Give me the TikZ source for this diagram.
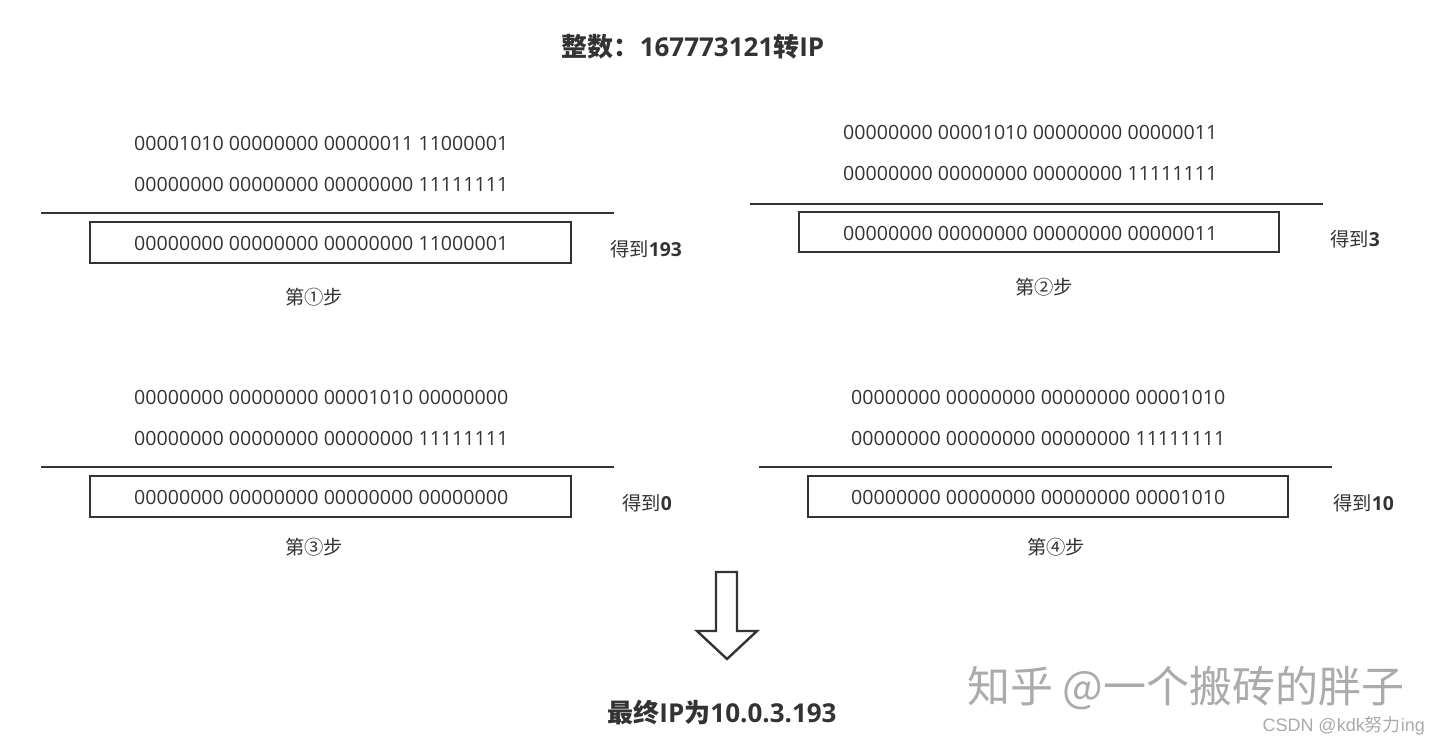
\documentclass[tikz,border=0pt]{standalone}
\usepackage{fontspec}
\setmainfont{Open Sans}
\newfontfamily\cjk{Noto Sans CJK SC}
\newfontfamily\wmsans{Liberation Sans}
\usetikzlibrary{positioning}
\definecolor{ink}{HTML}{333333}
\definecolor{wm}{HTML}{ABABAB}
\tikzset{
  bits/.style={inner sep=0pt, anchor=west, text=ink, font=\fontsize{19.6}{19.6}\selectfont},
  rule/.style={draw=ink, line width=2.2pt},
  resbox/.style={draw=ink, line width=2pt},
  result/.style={inner sep=0pt, anchor=west, text=ink, font=\fontsize{19.3}{19.3}\selectfont},
  steplabel/.style={inner sep=0pt, text=ink, font=\cjk\fontsize{19.3}{19.3}\selectfont},
  heading/.style={inner sep=0pt, text=ink, font=\bfseries\fontsize{26}{26}\selectfont},
}
\begin{document}
\begin{tikzpicture}[x=1pt,y=-1pt]
\useasboundingbox (0,0) rectangle (1440,747);
\fill[white] (0,0) rectangle (1440,747);

\node[heading] (title) at (693,47) {{\cjk\bfseries 整数：}167773121{\cjk\bfseries 转}IP};

% Step 1
\node[bits] (s1a) at (134,143) {00001010 00000000 00000011 11000001};
\node[bits] (s1b) at (134,184) {00000000 00000000 00000000 11111111};
\coordinate (s1l) at (41,213); \coordinate (s1r) at (614,213);
\draw[rule] (s1l) -- (s1r);
\draw[resbox] (90,222) rectangle (571,263);
\node[bits] (s1c) at (134,243) {00000000 00000000 00000000 11000001};
\node[result] (s1res) at (610,249) {{\cjk 得到}\textbf{193}};
\node[steplabel] (s1step) at (314,297) {第①步};

% Step 2
\node[bits] (s2a) at (843,132) {00000000 00001010 00000000 00000011};
\node[bits] (s2b) at (843,173) {00000000 00000000 00000000 11111111};
\coordinate (s2l) at (750,204); \coordinate (s2r) at (1323,204);
\draw[rule] (s2l) -- (s2r);
\draw[resbox] (799,212) rectangle (1279,252);
\node[bits] (s2c) at (843,233) {00000000 00000000 00000000 00000011};
\node[result] (s2res) at (1330,239) {{\cjk 得到}\textbf{3}};
\node[steplabel] (s2step) at (1044,287) {第②步};

% Step 3
\node[bits] (s3a) at (134,397) {00000000 00000000 00001010 00000000};
\node[bits] (s3b) at (134,438) {00000000 00000000 00000000 11111111};
\coordinate (s3l) at (41,467); \coordinate (s3r) at (614,467);
\draw[rule] (s3l) -- (s3r);
\draw[resbox] (90,476) rectangle (571,517);
\node[bits] (s3c) at (134,497) {00000000 00000000 00000000 00000000};
\node[result] (s3res) at (622,503) {{\cjk 得到}\textbf{0}};
\node[steplabel] (s3step) at (314,547) {第③步};

% Step 4
\node[bits] (s4a) at (851,397) {00000000 00000000 00000000 00001010};
\node[bits] (s4b) at (851,438) {00000000 00000000 00000000 11111111};
\coordinate (s4l) at (759,467); \coordinate (s4r) at (1332,467);
\draw[rule] (s4l) -- (s4r);
\draw[resbox] (808,476) rectangle (1288,517);
\node[bits] (s4c) at (851,497) {00000000 00000000 00000000 00001010};
\node[result] (s4res) at (1333,503) {{\cjk 得到}\textbf{10}};
\node[steplabel] (s4step) at (1056,547) {第④步};

% Arrow
\draw[ink, line width=2.4pt, line join=miter, fill=white]
  (716,572) -- (737,572) -- (737,631) -- (757,631) -- (727,659)
  -- (697,631) -- (716,631) -- cycle;

\node[heading] (final) at (722,713) {{\cjk\bfseries 最终}IP{\cjk\bfseries 为}10.0.3.193};

% Watermarks
\node[inner sep=0pt, anchor=west, text=wm, font=\cjk\fontsize{43}{43}\selectfont] (wm1) at (967,688) {知乎 @一个搬砖的胖子};
\node[inner sep=0pt, anchor=east, text=wm, font=\wmsans\fontsize{18}{18}\selectfont] (wm2) at (1425,726) {CSDN @kdk{\cjk 努力}ing};
\end{tikzpicture}
\end{document}
